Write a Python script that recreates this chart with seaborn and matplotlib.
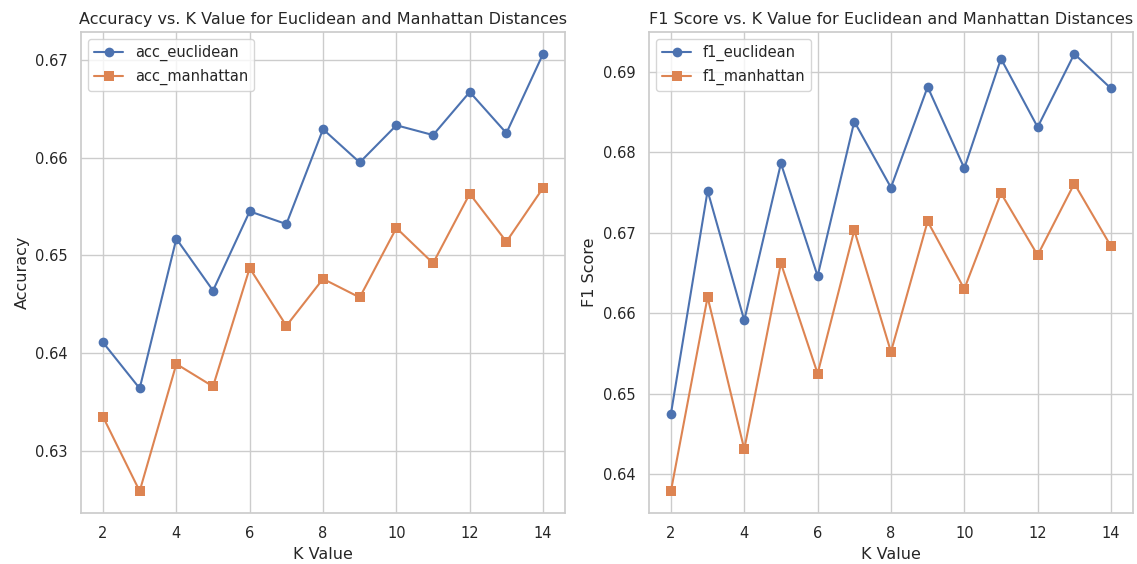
import numpy as np
import pandas as pd
import matplotlib
matplotlib.use("Agg")
import matplotlib.pyplot as plt
import seaborn as sns

k_values = [2, 3, 4, 5, 6, 7, 8, 9, 10, 11, 12, 13, 14]
acc_euclidean = [0.6411, 0.6364, 0.6517, 0.6464, 0.6545, 0.6532, 0.6629, 0.6595,
                 0.6633, 0.6623, 0.6667, 0.6625, 0.6706]
acc_manhattan = [0.6335, 0.6259, 0.6389, 0.6366, 0.6487, 0.6428, 0.6476, 0.6457,
                 0.6528, 0.6492, 0.6563, 0.6514, 0.6569]
f1_euclidean = [0.6475, 0.6752, 0.6591, 0.6786, 0.6646, 0.6838, 0.6756, 0.6881,
                0.6780, 0.6916, 0.6831, 0.6922, 0.6879]
f1_manhattan = [0.6379, 0.6620, 0.6431, 0.6662, 0.6525, 0.6703, 0.6552, 0.6714,
                0.6630, 0.6749, 0.6672, 0.6761, 0.6683]

sns.set_theme(style="whitegrid")
plt.rcParams.update({
    "axes.titlesize": 11.5,
    "axes.labelsize": 11.5,
    "xtick.labelsize": 10.5,
    "ytick.labelsize": 10.5,
    "legend.fontsize": 10.5,
})

fig, axes = plt.subplots(1, 2, figsize=(11.37, 5.64), dpi=100)

line_kw = dict(markersize=7, markeredgewidth=0, linewidth=1.5)

ax = axes[0]
sns.lineplot(x=k_values, y=acc_euclidean, marker="o", label="acc_euclidean", ax=ax, **line_kw)
sns.lineplot(x=k_values, y=acc_manhattan, marker="s", label="acc_manhattan", ax=ax, **line_kw)
ax.set_title("Accuracy vs. K Value for Euclidean and Manhattan Distances")
ax.set_xlabel("K Value")
ax.set_ylabel("Accuracy")
ax.legend(loc="upper left")

ax = axes[1]
sns.lineplot(x=k_values, y=f1_euclidean, marker="o", label="f1_euclidean", ax=ax, **line_kw)
sns.lineplot(x=k_values, y=f1_manhattan, marker="s", label="f1_manhattan", ax=ax, **line_kw)
ax.set_title("F1 Score vs. K Value for Euclidean and Manhattan Distances")
ax.set_xlabel("K Value")
ax.set_ylabel("F1 Score")
ax.legend(loc="upper left")

fig.subplots_adjust(left=81/1137, right=1133/1137, top=1 - 32/564, bottom=1 - 513/564,
                    wspace=84/485)
fig.savefig("out.png", dpi=100)
